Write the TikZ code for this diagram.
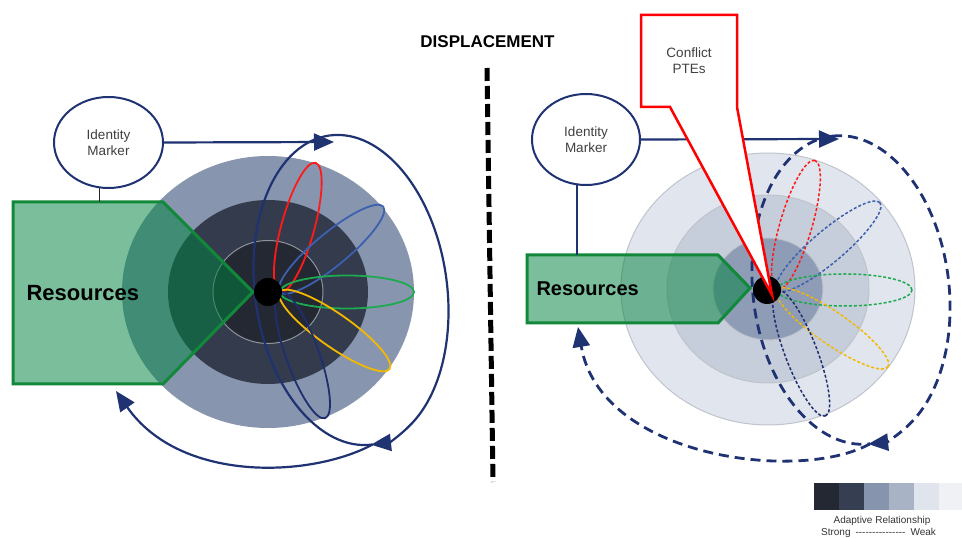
\documentclass[tikz,border=0pt]{standalone}
\usepackage{fontspec}
\setmainfont{Liberation Sans}
\usetikzlibrary{arrows.meta,shapes.geometric,calc}
\definecolor{navy}{HTML}{1F3272}
\definecolor{outerL}{HTML}{8796AE}
\definecolor{midL}{HTML}{333B4D}
\definecolor{innerL}{HTML}{232833}
\definecolor{innerLine}{HTML}{8F949C}
\definecolor{outerR}{HTML}{E1E5ED}
\definecolor{midR}{HTML}{C7CEDB}
\definecolor{innerR}{HTML}{8E9CB6}
\definecolor{lineR}{HTML}{BFC3CB}
\definecolor{gborder}{HTML}{12893A}
\definecolor{gfill}{HTML}{00833F}
\definecolor{pred}{HTML}{FF1A1A}
\definecolor{pblue}{HTML}{3D60AE}
\definecolor{pgreen}{HTML}{1DAA4F}
\definecolor{pyellow}{HTML}{F5B800}
\definecolor{pnavy}{HTML}{1F2F6E}
\definecolor{idtext}{HTML}{404040}
\definecolor{sw1}{HTML}{232833}
\definecolor{sw2}{HTML}{363F51}
\definecolor{sw3}{HTML}{8695AD}
\definecolor{sw4}{HTML}{A8B3C6}
\definecolor{sw5}{HTML}{E0E4EC}
\definecolor{sw6}{HTML}{F0F1F4}
\newcommand{\hy}{\mbox{-}}
\begin{document}
\begin{tikzpicture}[x=1pt,y=1pt,
  navyline/.style={draw=navy, line width=2.2pt},
  tiparrow/.style={-{Triangle[length=20pt,width=17pt]}},
  petal/.style={line width=1.8pt},
  dpetal/.style={line width=1.5pt, dash pattern=on 3pt off 2pt},
  dloop/.style={draw=navy, line width=2.8pt, dash pattern=on 10pt off 6pt},
  resbox/.style={draw=gborder, line width=3pt, fill=gfill, fill opacity=0.52},
  idmark/.style={ellipse, draw=navy, line width=2pt, fill=white, inner sep=0pt, align=center, font=\fontsize{13.5}{15.5}\selectfont, text=idtext},
  restext/.style={font=\fontsize{22}{24}\selectfont\bfseries, anchor=west},
  legtext/.style={font=\fontsize{10}{11}\selectfont, text=black!80, inner sep=0pt},
]
\useasboundingbox (0,0) rectangle (962,538);
% ---------------- title and divider
\node[font=\fontsize{17}{20}\selectfont\bfseries] (title) at (487.5,496.5) {DISPLACEMENT};
\coordinate (divtop) at (487,470);
\coordinate (divbot) at (493,56);
\draw[line width=5pt, dash pattern=on 13pt off 5pt] (divtop) -- (divbot);

% ================= LEFT PANEL
\fill[outerL] (268,246) ellipse[x radius=146, y radius=136];
\fill[midL] (268,246) ellipse[x radius=100, y radius=92];
\filldraw[fill=innerL, draw=innerLine, line width=1pt] (268,246) ellipse[x radius=55, y radius=51.5];

% big loop
\begin{scope}[shift={(351,248)}, rotate=8]
  \coordinate (lLtop) at (0,156);
  \coordinate (lLbot) at (0,-156);
  \draw[navyline] (0,156) arc[start angle=90, end angle=270, x radius=96, y radius=156];
  \draw[navyline, tiparrow] (0,156) arc[start angle=90, end angle=-91, x radius=96, y radius=156];
\end{scope}

% petals
\coordinate (oL) at (280,246);
\foreach \ang/\col in {74.6/pred, 39.6/pblue, 0/pgreen, -35.1/pyellow, -70.3/pnavy}{
  \begin{scope}[shift={(oL)}, rotate=\ang]
    \draw[petal, draw=\col] (67,0) ellipse[x radius=67, y radius=16.5];
  \end{scope}
}

% resources pentagon
\coordinate (rLnw) at (13,336);
\coordinate (rLne) at (163,336);
\coordinate (rLtip) at (253,246);
\coordinate (rLse) at (163,154);
\coordinate (rLsw) at (13,154);
\path[resbox] (rLnw) -- (rLne) -- (rLtip) -- (rLse) -- (rLsw) -- cycle;
\fill[black] (268,246) circle[radius=14];
\node[restext] (resL) at (23,245) {Resources};

% identity marker
\node[idmark, minimum width=109pt, minimum height=91pt] (idL) at (108.5,395.5) {Identity\\Marker};
\draw[line width=1.8pt, black!85] (idL.259) -- (idL.259 |- rLnw);
\coordinate (aLtop) at (334,396);
\draw[navyline, tiparrow] (idL.east) -- (aLtop);

% bottom return arrow
\coordinate (aLres) at (116,147);
\draw[navyline, tiparrow] (lLbot) .. controls (310,60) and (180,55) .. (aLres);

% ================= RIGHT PANEL
\filldraw[fill=outerR, draw=lineR, line width=1pt] (768,249) ellipse[x radius=147, y radius=136];
\filldraw[fill=midR, draw=lineR, line width=1pt] (768,249) ellipse[x radius=101, y radius=94];
\filldraw[fill=innerR, draw=lineR, line width=1pt] (768,249) ellipse[x radius=55, y radius=51];

% petals dashed
\coordinate (oR) at (777,248);
\foreach \ang/\col in {73.7/pred, 40.3/pblue, 0/pgreen, -34.7/pyellow, -69/pnavy}{
  \begin{scope}[shift={(oR)}, rotate=\ang]
    \draw[dpetal, draw=\col] (67.5,0) ellipse[x radius=67.5, y radius=16];
  \end{scope}
}

% big dashed loop
\begin{scope}[shift={(851,248)}, rotate=7]
  \coordinate (lRtop) at (0,155);
  \coordinate (lRbot) at (0,-155);
  \draw[dloop] (0,155) arc[start angle=90, end angle=270, x radius=98, y radius=155];
  \draw[dloop, tiparrow] (0,155) arc[start angle=90, end angle=-91, x radius=98, y radius=155];
\end{scope}

% resources pentagon right
\coordinate (rRnw) at (527,283);
\coordinate (rRne) at (718,283);
\coordinate (rRtip) at (750,250);
\coordinate (rRse) at (718,215);
\coordinate (rRsw) at (527,215);
\path[resbox] (rRnw) -- (rRne) -- (rRtip) -- (rRse) -- (rRsw) -- cycle;
\fill[black] (767,248) circle[radius=14];
\node[restext, font=\fontsize{20}{22}\selectfont\bfseries] (resR) at (533,249) {Resources};

% identity marker right
\node[idmark, minimum width=108pt, minimum height=91pt] (idR) at (586,398.5) {Identity\\Marker};
\draw[line width=2pt, navy] (idR.259) -- (idR.259 |- rRnw);
\coordinate (aRtop) at (839,399);
\draw[navyline, tiparrow] (idR.east) -- (aRtop);

% bottom dashed return arrow
\coordinate (aRres) at (578,211);
\draw[dloop, tiparrow] (lRbot) .. controls (800,55) and (600,80) .. (aRres);

% callout
\coordinate (cNW) at (641,523);
\coordinate (cNE) at (737,523);
\coordinate (cSE) at (737,431);
\coordinate (cTip) at (772,243);
\coordinate (cBase) at (670,431);
\coordinate (cSW) at (641,431);
\filldraw[fill=white, draw=red, line width=2.5pt, line join=miter] (cNW) -- (cNE) -- (cSE) -- (cTip) -- (cBase) -- (cSW) -- cycle;
\node[align=center, font=\fontsize{13.5}{16}\selectfont, text=idtext] (conf) at (689,477) {Conflict\\PTEs};

% ================= LEGEND
\foreach \i/\c in {0/sw1,1/sw2,2/sw3,3/sw4,4/sw5,5/sw6}{
  \fill[\c] (814+25*\i,28) rectangle (839.5+25*\i,55);
}
\node[legtext] (legA) at (882,17) {Adaptive Relationship};
\node[legtext] (legB) at (878.5,5.5) {Strong\enspace\hy\hy\hy\hy\hy\hy\hy\hy\hy\hy\hy\hy\hy\hy\hy\enspace Weak};
\end{tikzpicture}
\end{document}
